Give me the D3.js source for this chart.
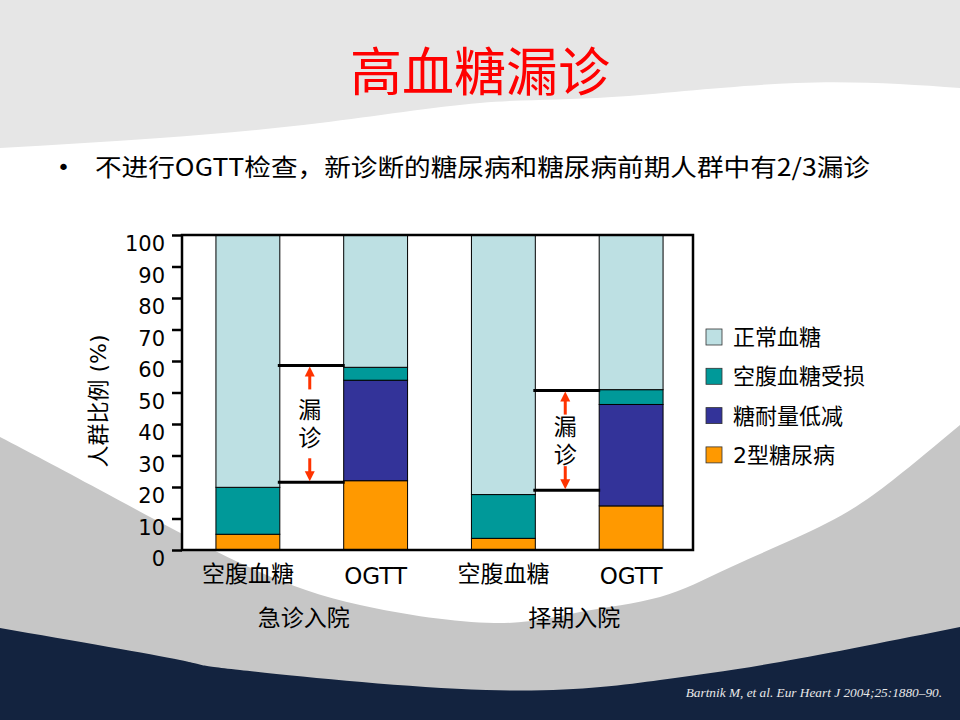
<!DOCTYPE html>
<html>
<head>
<meta charset="utf-8">
<script src="https://cdn.jsdelivr.net/npm/d3@7/dist/d3.min.js"></script>
<style>
  html, body { margin: 0; padding: 0; background: #ffffff; }
  svg { display: block; }
</style>
</head>
<body>
<svg id="chart" width="960" height="720" font-family="'DejaVu Sans', 'Noto Sans CJK SC', sans-serif"></svg>
<script>
// ---------------- data ----------------
const categories = ["急诊入院·空腹血糖", "急诊入院·OGTT", "择期入院·空腹血糖", "择期入院·OGTT"];
const tickLabels = ["空腹血糖", "OGTT", "空腹血糖", "OGTT"];
const groups = ["急诊入院", "择期入院"];
const legendNames = ["正常血糖", "空腹血糖受损", "糖耐量低减", "2型糖尿病"];
const seriesColors = ["#bde0e3", "#009999", "#333399", "#ff9900"];
// stacked values (%), per bar
const diabetes = [5.0, 22.0, 3.7, 14.0];      // 2型糖尿病
const igt      = [0.0, 31.9, 0.0, 32.2];      // 糖耐量低减
const ifg      = [14.9, 4.1, 13.9, 4.7];      // 空腹血糖受损
const normal   = [80.1, 42.0, 82.4, 49.1];    // 正常血糖
const yTicks = [0, 10, 20, 30, 40, 50, 60, 70, 80, 90, 100];
// "漏诊" bracket levels per group (%)
const missedTop = [58.6, 50.6];
const missedBottom = [21.5, 19.0];

// ---------------- setup ----------------
const svg = d3.select("#chart");
const W = 960, H = 720;

// background decoration
const bg = svg.append("g");
const topCurve = [[0,148],[160,138],[320,123],[480,103],[612,97],[796,83],[960,88]];
const midCurve = [[0,437],[100,490],[240,563],[360,605],[494,623],[580,612],[660,597],[731,567],[827,523],[893,480],[960,425]];
const navyCurve = [[0,628],[180,660],[240,670],[486,690],[660,680],[780,662],[960,627]];
const areaTop = d3.area().x(d => d[0]).y0(0).y1(d => d[1]).curve(d3.curveNatural);
const areaBottom = d3.area().x(d => d[0]).y0(d => d[1]).y1(H).curve(d3.curveNatural);
bg.append("rect").attr("width", W).attr("height", H).attr("fill", "#ffffff");
bg.append("path").attr("d", areaTop(topCurve)).attr("fill", "#e6e6e6");
bg.append("path").attr("d", areaBottom(midCurve)).attr("fill", "#c6c6c6");
bg.append("path").attr("d", areaBottom(navyCurve)).attr("fill", "#13233f");

// title & bullet
svg.append("text").attr("x", 480).attr("y", 91).attr("text-anchor", "middle")
  .attr("font-size", 52).attr("fill", "#ff0000")
  .attr("font-family", "'Noto Sans CJK SC', sans-serif")
  .text("高血糖漏诊");
svg.append("text").attr("x", 57).attr("y", 175).attr("font-size", 22).attr("fill", "#000")
  .text("•");
svg.append("text").attr("x", 95).attr("y", 176).attr("font-size", 24).attr("fill", "#000")
  .attr("font-family", "'Noto Sans CJK SC', sans-serif")
  .attr("textLength", 775).attr("lengthAdjust", "spacingAndGlyphs")
  .text("不进行OGTT检查，新诊断的糖尿病和糖尿病前期人群中有2/3漏诊");

// scales
const plotLeft = 182, plotRight = 693;
const y = d3.scaleLinear().domain([0, 100]).range([550, 235]);
const x = d3.scaleBand().domain(categories).range([184, 695]).paddingInner(0.5).paddingOuter(0.25);

// stack
const rows = categories.map((c, i) => ({
  cat: c,
  "2型糖尿病": diabetes[i],
  "糖耐量低减": igt[i],
  "空腹血糖受损": ifg[i],
  "正常血糖": normal[i]
}));
const stackKeys = ["2型糖尿病", "糖耐量低减", "空腹血糖受损", "正常血糖"];
const color = d3.scaleOrdinal().domain(legendNames).range(seriesColors);
const stacked = d3.stack().keys(stackKeys)(rows);

// plot background
svg.append("rect").attr("x", plotLeft).attr("y", y(100))
  .attr("width", plotRight - plotLeft).attr("height", y(0) - y(100))
  .attr("fill", "#ffffff");

// bars
svg.append("g").selectAll("g").data(stacked).join("g")
  .attr("fill", d => color(d.key))
  .selectAll("rect").data(d => d.filter(s => s[1] - s[0] > 0)).join("rect")
  .attr("x", d => x(d.data.cat))
  .attr("y", d => y(d[1]))
  .attr("width", x.bandwidth())
  .attr("height", d => y(d[0]) - y(d[1]))
  .attr("stroke", "#000").attr("stroke-width", 1);

// frame
svg.append("rect").attr("x", plotLeft).attr("y", y(100))
  .attr("width", plotRight - plotLeft).attr("height", y(0) - y(100))
  .attr("fill", "none").attr("stroke", "#000").attr("stroke-width", 2.5);

// y axis
const yAxis = svg.append("g").attr("transform", `translate(${plotLeft},0)`)
  .call(d3.axisLeft(y).tickValues(yTicks).tickSize(10).tickPadding(7).tickFormat(d3.format("d")));
yAxis.select(".domain").remove();
yAxis.selectAll(".tick line").attr("stroke", "#000").attr("stroke-width", 2.5);
yAxis.selectAll(".tick text").attr("font-size", 21).attr("fill", "#000")
  .attr("font-family", "'DejaVu Sans', sans-serif").attr("dy", "0.74em");

// y axis title
svg.append("text").attr("transform", "translate(106,401) rotate(-90)")
  .attr("text-anchor", "middle").attr("font-size", 22).attr("fill", "#000")
  .text("人群比例 (%)");

// x axis labels
const xAxis = svg.append("g").attr("transform", `translate(0,${y(0)})`)
  .call(d3.axisBottom(x).tickSize(0).tickFormat((d, i) => tickLabels[i]));
xAxis.select(".domain").remove();
xAxis.selectAll(".tick text").attr("font-size", 23).attr("fill", "#000")
  .attr("font-family", "'DejaVu Sans', 'Noto Sans CJK SC', sans-serif")
  .attr("y", (d, i) => tickLabels[i] === "OGTT" ? 34 : 32).attr("dy", 0);

// group labels
const groupShift = [-8, 7];
svg.append("g").selectAll("text").data(groups).join("text")
  .attr("x", (g, gi) => (x(categories[gi * 2]) + x(categories[gi * 2 + 1]) + x.bandwidth()) / 2 + groupShift[gi])
  .attr("y", 626).attr("text-anchor", "middle").attr("font-size", 23).attr("fill", "#000")
  .text(d => d);

// "漏诊" brackets
const arrowColor = "#ff3300";
const ann = svg.append("g");
groups.forEach((g, gi) => {
  const x0 = x(categories[gi * 2]) + x.bandwidth();
  const x1 = x(categories[gi * 2 + 1]);
  const cx = (x0 + x1) / 2 - 2;
  const yt = y(missedTop[gi]), yb = y(missedBottom[gi]);
  const ym = (yt + yb) / 2;
  [yt, yb].forEach(yy => {
    ann.append("line").attr("x1", x0 - 2).attr("x2", x1 + 1).attr("y1", yy).attr("y2", yy)
      .attr("stroke", "#000").attr("stroke-width", 3);
  });
  const len = 24, head = 10, hw = 5;
  ann.append("line").attr("x1", cx).attr("x2", cx).attr("y1", yt + head).attr("y2", yt + len)
    .attr("stroke", arrowColor).attr("stroke-width", 3);
  ann.append("path").attr("d", `M${cx},${yt + 1}L${cx - hw},${yt + head + 1}L${cx + hw},${yt + head + 1}Z`)
    .attr("fill", arrowColor);
  ann.append("line").attr("x1", cx).attr("x2", cx).attr("y1", yb - len).attr("y2", yb - head)
    .attr("stroke", arrowColor).attr("stroke-width", 3);
  ann.append("path").attr("d", `M${cx},${yb - 1}L${cx - hw},${yb - head - 1}L${cx + hw},${yb - head - 1}Z`)
    .attr("fill", arrowColor);
  ann.append("text").attr("x", cx).attr("y", ym - 14 + 8.5).attr("text-anchor", "middle")
    .attr("font-size", 23).attr("fill", "#000").text("漏");
  ann.append("text").attr("x", cx).attr("y", ym + 14 + 8.5).attr("text-anchor", "middle")
    .attr("font-size", 23).attr("fill", "#000").text("诊");
});

// legend
const legend = svg.append("g").attr("transform", "translate(706,329)");
const li = legend.selectAll("g").data(legendNames).join("g")
  .attr("transform", (d, i) => `translate(0,${i * 39.3})`);
li.append("rect").attr("width", 16).attr("height", 16)
  .attr("fill", d => color(d)).attr("stroke", "#333").attr("stroke-width", 0.8);
li.append("text").attr("x", 27).attr("y", 16).attr("font-size", 22).attr("fill", "#000")
  .text(d => d);

// citation
svg.append("text").attr("x", 942).attr("y", 697).attr("text-anchor", "end")
  .attr("font-family", "'Liberation Serif', 'DejaVu Serif', serif").attr("font-style", "italic")
  .attr("font-size", 13.3).attr("fill", "#e8e8e8")
  .text("Bartnik M, et al. Eur Heart J 2004;25:1880–90.");
</script>
</body>
</html>
